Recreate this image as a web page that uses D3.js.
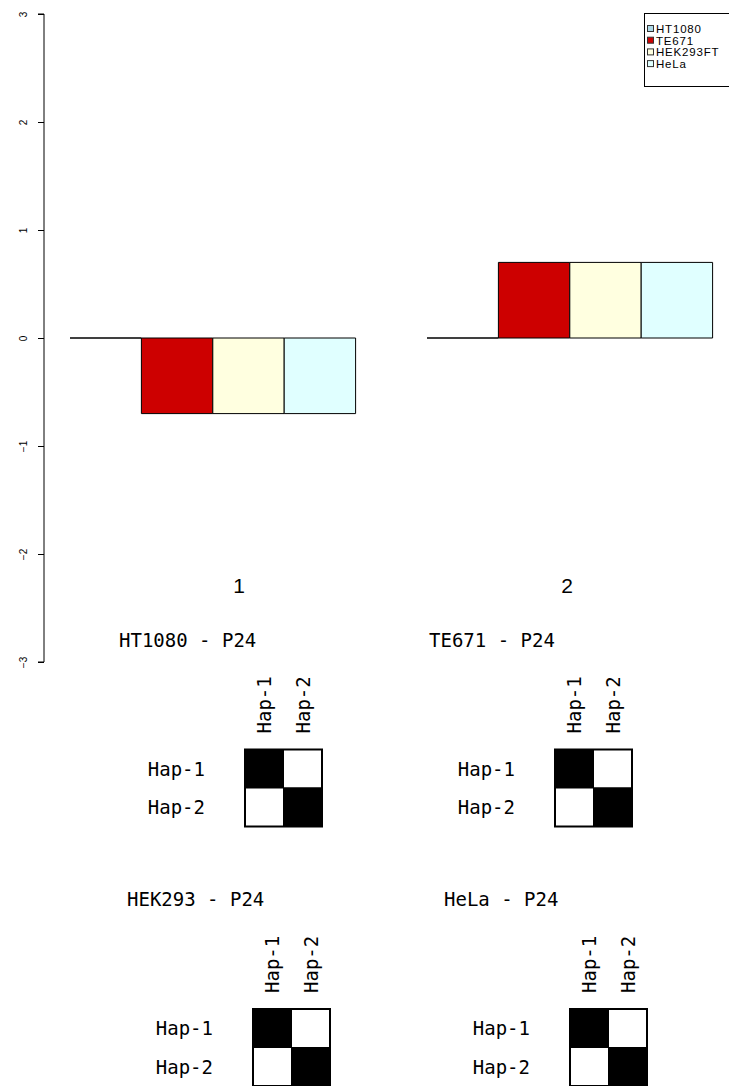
<!DOCTYPE html>
<html><head><meta charset="utf-8">
<script src="https://cdn.jsdelivr.net/npm/d3@7"></script>
<style>
html,body{margin:0;padding:0;background:#fff;overflow:hidden}
svg{display:block}
</style></head>
<body>
<script>
// ---- data ----
const groups = ["1", "2"];
const seriesNames = ["HT1080", "TE671", "HEK293FT", "HeLa"];
const ht1080 = [0, 0];
const te671 = [-0.7, 0.7];
const hek293ft = [-0.7, 0.7];
const hela = [-0.7, 0.7];
const yTicks = [-3, -2, -1, 0, 1, 2, 3];
const seriesColors = ["#ADD8E6", "#CD0000", "#FFFFE0", "#E0FFFF"];

const panelTitles = ["HT1080 - P24", "TE671 - P24", "HEK293 - P24", "HeLa - P24"];
const hapLabels = ["Hap-1", "Hap-2"];
const ldHT1080 = [[1, 0], [0, 1]];
const ldTE671 = [[1, 0], [0, 1]];
const ldHEK293 = [[1, 0], [0, 1]];
const ldHeLa = [[1, 0], [0, 1]];

// ---- drawing ----
const W = 729, H = 1086;
const svg = d3.select("body").append("svg").attr("width", W).attr("height", H);

const seriesValues = [ht1080, te671, hek293ft, hela];

const y = d3.scaleLinear().domain([-3, 3]).range([662, 14]);
const x0 = d3.scaleBand().domain(groups).range([70, 712.6]).paddingInner(0.2).paddingOuter(0);
const x1 = d3.scaleBand().domain(seriesNames).range([0, x0.bandwidth()]).padding(0);

// y axis
const yAxis = d3.axisLeft(y).tickValues(yTicks).tickSize(6).tickFormat(d3.format("d"));
const ag = svg.append("g").attr("transform", "translate(44,0)").call(yAxis);
ag.select(".domain").attr("d", `M-6,${y(3)}H0V${y(-3)}H-6`).attr("stroke", "#000").attr("fill", "none");
ag.selectAll(".tick line").attr("stroke", "#000");
ag.selectAll(".tick text")
  .attr("font-family", "Liberation Sans, Arial, sans-serif")
  .attr("font-size", 10)
  .attr("fill", "#000")
  .attr("text-anchor", "middle")
  .attr("dy", null)
  .attr("x", null)
  .attr("transform", "translate(-21,0) rotate(-90)")
  .attr("dominant-baseline", "central");

// bars
groups.forEach((g, gi) => {
  seriesNames.forEach((s, si) => {
    const v = seriesValues[si][gi];
    const xa = x0(g) + x1(s), xb = xa + x1.bandwidth();
    const ya = y(0), yb = y(v);
    svg.append("path")
      .attr("d", `M${xa},${ya}H${xb}V${yb}H${xa}Z`)
      .attr("fill", seriesColors[si])
      .attr("stroke", "#000")
      .attr("stroke-width", 1);
  });
});

// group labels
const groupLabelX = [239, 567];
groups.forEach((g, gi) => {
  svg.append("text")
    .attr("x", groupLabelX[gi]).attr("y", 593)
    .attr("text-anchor", "middle")
    .attr("font-family", "Liberation Sans, Arial, sans-serif")
    .attr("font-size", 21)
    .text(g);
});

// legend
const lg = svg.append("g");
lg.append("rect").attr("x", 644.5).attr("y", 13.5).attr("width", 100).attr("height", 73)
  .attr("fill", "#fff").attr("stroke", "#000").attr("stroke-width", 1);
seriesNames.forEach((s, i) => {
  const cy = 29 + i * 11.7;
  lg.append("rect").attr("x", 647.5).attr("y", cy - 3.5).attr("width", 6).attr("height", 6)
    .attr("fill", seriesColors[i]).attr("stroke", "#333").attr("stroke-width", 1);
  lg.append("text").attr("x", 656).attr("y", cy).attr("dominant-baseline", "central")
    .attr("font-family", "Liberation Sans, Arial, sans-serif").attr("font-size", 11.5)
    .attr("letter-spacing", 0.8)
    .text(s);
});

// LD heatmaps
const mats = [ldHT1080, ldTE671, ldHEK293, ldHeLa];
const panelPos = [[245, 749.5], [555, 749.5], [253, 1009], [570, 1009]];
const cellScale = d3.scaleBand().domain(hapLabels).range([0, 77]);
const mono = "DejaVu Sans Mono, monospace";

mats.forEach((m, pi) => {
  const [px, py] = panelPos[pi];
  const g = svg.append("g").attr("transform", `translate(${px},${py})`);
  g.append("text").attr("x", -126).attr("y", -110).attr("dominant-baseline", "central")
    .attr("font-family", mono).attr("font-size", 19).text(panelTitles[pi]);
  hapLabels.forEach((r, ri) => {
    hapLabels.forEach((c, ci) => {
      g.append("rect")
        .attr("x", cellScale(c)).attr("y", cellScale(r))
        .attr("width", cellScale.bandwidth()).attr("height", cellScale.bandwidth())
        .attr("fill", m[ri][ci] ? "#000" : "#fff")
        .attr("stroke", "#000").attr("stroke-width", 1);
    });
    g.append("text").attr("x", -40).attr("y", cellScale(r) + cellScale.bandwidth() / 2)
      .attr("text-anchor", "end").attr("dominant-baseline", "central")
      .attr("font-family", mono).attr("font-size", 19).text(r);
  });
  hapLabels.forEach((c) => {
    const cx = cellScale(c) + cellScale.bandwidth() / 2;
    g.append("text").attr("transform", `translate(${cx},-16) rotate(-90)`)
      .attr("text-anchor", "start").attr("dominant-baseline", "central")
      .attr("font-family", mono).attr("font-size", 19).text(c);
  });
  g.append("rect").attr("x", 0).attr("y", 0).attr("width", 77).attr("height", 77)
    .attr("fill", "none").attr("stroke", "#000").attr("stroke-width", 2);
});
</script>
</body></html>
